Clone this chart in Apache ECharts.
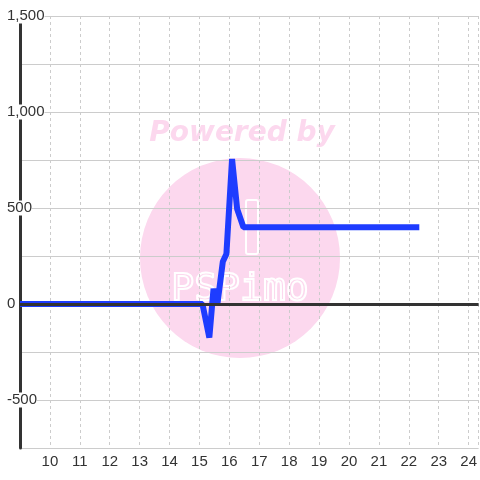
<!DOCTYPE html>
<html>
<head>
<meta charset="utf-8">
<style>
  html, body { margin: 0; padding: 0; background: #fff; }
  #main { width: 480px; height: 480px; }
</style>
<script src="https://cdn.jsdelivr.net/npm/echarts@6/dist/echarts.min.js"></script>
</head>
<body>
<div id="main"></div>
<script>
// hour of day / value pairs
var hours = [9, 15.1, 15.33, 15.47, 15.6, 15.78, 15.9, 16.09, 16.26, 16.47, 22.35];
var values = [0, 0, -175, 80, 0, 220, 260, 755, 495, 400, 400];
var yTicks = [-750, -500, -250, 0, 250, 500, 750, 1000, 1250, 1500];

var lineData = hours.map(function (h, i) { return [h, values[i]]; });

var myChart = echarts.init(document.getElementById('main'));
myChart.setOption({
  animation: false,
  grid: { left: 20, right: 0, top: 16, bottom: 32 },
  graphic: [{
    type: 'circle',
    z: -10,
    shape: { cx: 240, cy: 258, r: 100 },
    style: { fill: '#fcd8ee' }
  }, {
    type: 'text',
    z: -10,
    x: 242, y: 134,
    style: {
      text: 'Powered by',
      font: 'italic bold 28px "DejaVu Sans"',
      fill: '#fcd8ee',
      align: 'center',
      verticalAlign: 'middle'
    }
  }, {
    type: 'rect',
    z: -9,
    shape: { x: 246, y: 200, width: 12, height: 54, r: 2 },
    style: { fill: 'none', stroke: '#fff', lineWidth: 2 }
  }, {
    type: 'text',
    z: -9,
    x: 240, y: 290,
    style: {
      text: 'PSPimo',
      font: '38px "DejaVu Sans Mono"',
      fill: 'none',
      stroke: '#fff',
      lineWidth: 2,
      align: 'center',
      verticalAlign: 'middle'
    }
  }],
  xAxis: {
    type: 'value',
    min: 9,
    max: 24.333,
    interval: 1,
    axisLine: { show: false },
    axisTick: { show: false },
    axisLabel: {
      color: '#333',
      fontSize: 15,
      fontFamily: 'Liberation Sans',
      margin: 6,
      showMaxLabel: false,
      formatter: function (v) { return v === 9 ? '' : v; }
    },
    splitLine: { show: true, lineStyle: { color: '#ccc', type: [3, 3] } }
  },
  yAxis: {
    type: 'value',
    min: yTicks[0],
    max: yTicks[yTicks.length - 1],
    interval: 250,
    axisLine: { show: true, lineStyle: { color: '#333', width: 3 } },
    axisTick: { show: false },
    axisLabel: {
      color: '#333',
      fontSize: 15,
      fontFamily: 'Liberation Sans',
      align: 'left',
      margin: 13,
      backgroundColor: '#fff',
      lineHeight: 15,
      formatter: function (v) {
        if (v % 500 !== 0 || v === -750) return '';
        return v.toLocaleString('en-US');
      }
    },
    splitLine: { lineStyle: { color: '#ccc' } }
  },
  series: [{
    type: 'line',
    z: 1,
    data: [],
    silent: true,
    markLine: {
      silent: true,
      symbol: 'none',
      label: { show: false },
      lineStyle: { color: '#333', width: 3, type: 'solid' },
      data: [{ yAxis: 0 }]
    }
  }, {
    type: 'line',
    z: 3,
    data: lineData,
    showSymbol: false,
    lineStyle: { color: '#1e3cff', width: 6 }
  }]
});
</script>
</body>
</html>
